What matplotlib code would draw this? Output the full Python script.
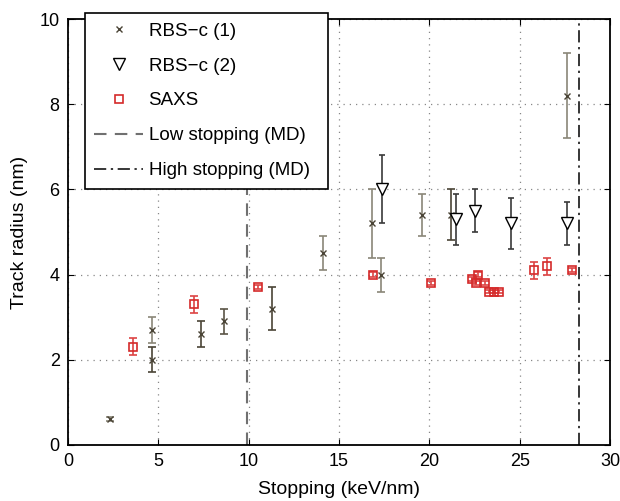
import numpy as np
import matplotlib
matplotlib.use("Agg")
import matplotlib.pyplot as plt

plt.rcParams['font.family'] = ['Liberation Sans', 'DejaVu Sans']

# RBS-c (1)
rbs1_x = [2.3, 4.64, 4.64, 7.36, 8.64, 11.3, 14.1, 16.8, 17.34, 19.58, 21.19, 27.63]
rbs1_y = [0.6, 2.7, 2.0, 2.6, 2.9, 3.2, 4.5, 5.2, 4.0, 5.4, 5.4, 8.2]
rbs1_err = [0.05, 0.3, 0.3, 0.3, 0.3, 0.5, 0.4, 0.8, 0.4, 0.5, 0.6, 1.0]

# RBS-c (2)
rbs2_x = [17.4, 21.5, 22.5, 24.5, 27.63]
rbs2_y = [6.0, 5.3, 5.5, 5.2, 5.2]
rbs2_err = [0.8, 0.6, 0.5, 0.6, 0.5]

# SAXS
saxs_x = [3.58, 6.97, 10.5, 16.9, 20.1, 22.37, 22.57, 22.67, 23.1, 23.28, 23.57, 23.85, 25.8, 26.5, 27.9]
saxs_y = [2.3, 3.3, 3.7, 4.0, 3.8, 3.9, 3.8, 4.0, 3.8, 3.6, 3.6, 3.6, 4.1, 4.2, 4.1]
saxs_err = [0.2, 0.2, 0.05, 0.05, 0.05, 0.05, 0.05, 0.05, 0.05, 0.03, 0.03, 0.03, 0.2, 0.2, 0.05]

low_md = 9.9
high_md = 28.3

fig = plt.figure(figsize=(6.2, 5.01), dpi=100)
ax = fig.add_axes([0.1097, 0.112, 0.8742, 0.850])

# error bar colours alternate between grey and dark in the original
bar_cols = ['#8a8678', '#8a8678', '#4a4436', '#4a4436', '#5a5446', '#4a4436',
            '#8a8678', '#8a8678', '#8a8678', '#8a8678', '#4a4436', '#8a8678']
for xi, yi, ei, c in zip(rbs1_x, rbs1_y, rbs1_err, bar_cols):
    ax.errorbar(xi, yi, yerr=ei, fmt='none', ecolor=c, elinewidth=1.2, capsize=3, capthick=1.2, zorder=3)
h1, = ax.plot(rbs1_x, rbs1_y, 'x', color='#4a4436', ms=5, mew=1, ls='none', label='RBS\u2212c (1)', zorder=4)

ax.errorbar(rbs2_x, rbs2_y, yerr=rbs2_err, fmt='none', ecolor='#3a3a3a', elinewidth=1.2, capsize=2.5, capthick=1.2, zorder=3)
h2, = ax.plot(rbs2_x, rbs2_y, 'v', mfc='white', mec='black', ms=8, mew=1, ls='none', label='RBS\u2212c (2)', zorder=4)

ax.errorbar(saxs_x, saxs_y, yerr=saxs_err, fmt='none', ecolor='#dd4444', elinewidth=1.2, capsize=3, capthick=1.2, zorder=3)
h3, = ax.plot(saxs_x, saxs_y, 's', mfc='none', mec='#d42a2a', ms=5.2, mew=1.2, ls='none', label='SAXS', zorder=4)

h4 = ax.axvline(low_md, color='#707070', ls=(0, (6, 4)), lw=1.5, label='Low stopping (MD)', zorder=2)
h5 = ax.axvline(high_md, color='black', ls=(0, (8, 3, 1.5, 3)), lw=1.1, label='High stopping (MD)', zorder=2)

ax.set_xlim(0, 30)
ax.set_ylim(0, 10)
ax.set_xticks([0, 5, 10, 15, 20, 25, 30])
ax.set_yticks([0, 2, 4, 6, 8, 10])
ax.grid(True, ls=(0, (1, 4)), color='#888888', lw=0.9)
ax.tick_params(direction='in', top=True, right=True, labelsize=13, length=4, pad=6)
for s in ax.spines.values():
    s.set_linewidth(1.3)
ax.set_xlabel('Stopping (keV/nm)', fontsize=14, labelpad=8)
ax.set_ylabel('Track radius (nm)', fontsize=14, labelpad=8)

leg = ax.legend(handles=[h1, h2, h3, h4, h5], loc='upper left',
                bbox_to_anchor=(0.031, 0.596, 0.449, 0.418), mode='expand',
                borderaxespad=0, fontsize=13.5, handlelength=2.6, handletextpad=0.3,
                labelspacing=0.95, borderpad=0.5, fancybox=False, framealpha=1,
                edgecolor='black')
leg.get_frame().set_linewidth(1.2)
leg.set_zorder(10)

plt.savefig('out.png', dpi=100)
